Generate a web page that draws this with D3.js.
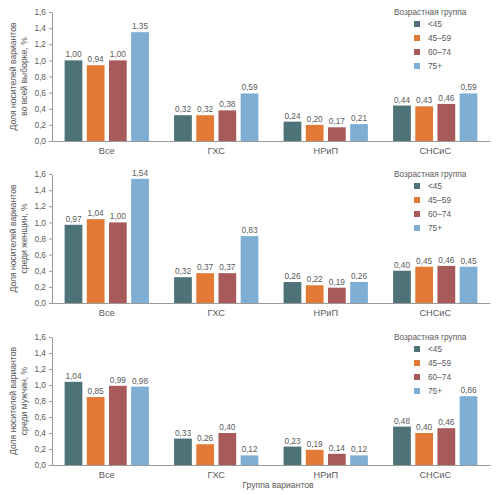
<!DOCTYPE html>
<html><head><meta charset="utf-8">
<script src="https://cdn.jsdelivr.net/npm/d3@7/dist/d3.min.js"></script>
<style>body{margin:0;background:#fff}svg{display:block}text{font-family:"Liberation Sans",Arial,sans-serif;fill:#5a5a5a}</style>
</head><body>
<script>
const categories = ["Все", "ГХС", "НРиП", "СНСиС"];
const ageGroups = ["<45", "45–59", "60–74", "75+"];
const colors = ["#4d7379", "#e27a35", "#a8595a", "#7eaed3"];
const yTicks = [0, 0.2, 0.4, 0.6, 0.8, 1.0, 1.2, 1.4, 1.6];
// values[category][ageGroup]
const allValues = [[1.00, 0.94, 1.00, 1.35], [0.32, 0.32, 0.38, 0.59], [0.24, 0.20, 0.17, 0.21], [0.44, 0.43, 0.46, 0.59]];
const womenValues = [[0.97, 1.04, 1.00, 1.54], [0.32, 0.37, 0.37, 0.83], [0.26, 0.22, 0.19, 0.26], [0.40, 0.45, 0.46, 0.45]];
const menValues = [[1.04, 0.85, 0.99, 0.98], [0.33, 0.26, 0.40, 0.12], [0.23, 0.19, 0.14, 0.12], [0.48, 0.40, 0.46, 0.86]];
const yLabels = [
  ["Доля носителей вариантов", "во всей выборке, %"],
  ["Доля носителей вариантов", "среди женщин, %"],
  ["Доля носителей вариантов", "среди мужчин, %"]
];
const xTitle = "Группа вариантов";
const legendTitle = "Возрастная группа";

const W = 500, H = 495;
const FONT = '"Liberation Sans",Arial,sans-serif';
const TXT = "#5f5f5f";
const svg = d3.select("body").append("svg").attr("width", W).attr("height", H);
const fmt = v => v.toFixed(2).replace(".", ",");
const panels = [
  {top: 12, bottom: 141, data: allValues},
  {top: 174, bottom: 303, data: womenValues},
  {top: 337, bottom: 465, data: menValues}
];
const left = 52, right = 490;
const x0 = d3.scaleBand().domain(categories).range([left, right]).paddingInner(0.23).paddingOuter(0.115);
const x1 = d3.scaleBand().domain(ageGroups).range([0, x0.bandwidth()]).paddingInner(0.2);

panels.forEach((p, pi) => {
  const y = d3.scaleLinear().domain([0, 1.6]).range([p.bottom, p.top]);
  const g = svg.append("g");
  // y axis
  const ya = g.append("g").attr("transform", `translate(${left},0)`)
    .call(d3.axisLeft(y).tickValues(yTicks).tickSize(3).tickSizeOuter(0).tickFormat(d => d.toFixed(1).replace(".", ",")));
  ya.attr("font-family", null);
  ya.select(".domain").attr("stroke", "#999");
  ya.selectAll(".tick line").attr("stroke", "#999");
  ya.selectAll(".tick text").attr("font-size", 8.3).attr("fill", TXT).attr("x", -6).style("font-family", FONT);
  // x axis
  const xa = g.append("g").attr("transform", `translate(0,${p.bottom})`)
    .call(d3.axisBottom(x0).tickSize(0).tickSizeOuter(0));
  xa.attr("font-family", null);
  xa.select(".domain").attr("stroke", "#999");
  xa.selectAll(".tick text").attr("font-size", 9.2).attr("fill", "#707070").attr("dy", "1.1em").style("font-family", FONT);
  // bars
  const grp = g.selectAll(".cat").data(categories).enter().append("g")
    .attr("transform", c => `translate(${x0(c)},0)`);
  grp.each(function(c, ci) {
    const s = d3.select(this);
    ageGroups.forEach((a, ai) => {
      const v = p.data[ci][ai];
      s.append("rect").attr("x", x1(a)).attr("width", x1.bandwidth())
        .attr("y", y(v)).attr("height", y(0) - y(v)).attr("fill", colors[ai]);
      s.append("text").attr("x", x1(a) + x1.bandwidth() / 2).attr("y", y(v) - 3)
        .attr("text-anchor", "middle").attr("font-size", 8.3).attr("fill", TXT).text(fmt(v));
    });
  });
  // y label
  const cy = (p.top + p.bottom) / 2;
  yLabels[pi].forEach((t, li) => {
    g.append("text").attr("transform", `translate(${16 + li * 11},${cy}) rotate(-90)`)
      .attr("text-anchor", "middle").attr("font-size", 8.6).attr("fill", TXT).text(t);
  });
  // legend
  const lg = g.append("g").attr("transform", `translate(394,${p.top})`);
  lg.append("text").attr("x", 0).attr("y", 3).attr("font-size", 8.3).attr("fill", TXT).text(legendTitle);
  ageGroups.forEach((a, ai) => {
    const ry = 12 + ai * 14;
    lg.append("rect").attr("x", 20).attr("y", ry - 3).attr("width", 6).attr("height", 6).attr("fill", colors[ai]);
    lg.append("text").attr("x", 34).attr("y", ry + 3).attr("font-size", 8.3).attr("fill", TXT).text(a);
  });
});
svg.append("text").attr("x", 278).attr("y", 488).attr("text-anchor", "middle")
  .attr("font-size", 8.6).attr("fill", TXT).text(xTitle);
</script>
</body></html>
